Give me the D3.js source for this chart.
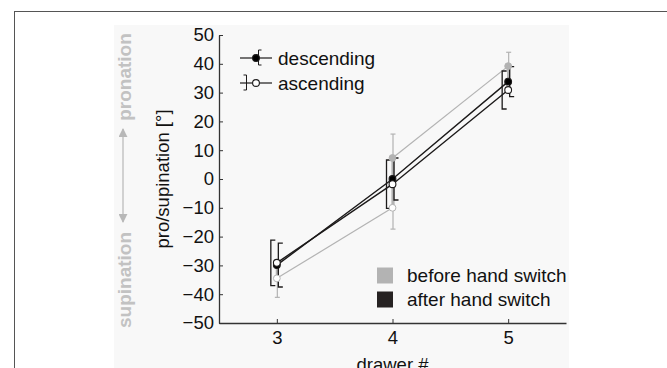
<!DOCTYPE html>
<html>
<head>
<meta charset="utf-8">
<script src="https://cdn.jsdelivr.net/npm/d3@7"></script>
<style>
  body { margin: 0; background: #fff; }
  svg { display: block; font-family: 'Liberation Sans', Arial, sans-serif; }
</style>
</head>
<body>
<div id="chart"></div>
<script>
// drawer numbers and mean angles (deg), with standard deviations
const drawers = [3, 4, 5];
const afterDesc = [-29.9, 0.0, 33.8];
const afterDescSd = [7.6, 7.3, 5.2];
const afterAsc = [-29.1, -1.8, 30.9];
const afterAscSd = [7.9, 8.4, 6.6];

const beforeDescDrawers = [4, 5];
const beforeDesc = [7.3, 39.2];
const beforeDescSd = [8.3, 4.8];
const beforeAscDrawers = [3, 4];
const beforeAsc = [-34.5, -10.0];
const beforeAscSd = [6.6, 7.4];

const yTicks = [-50, -40, -30, -20, -10, 0, 10, 20, 30, 40, 50];
const xTicks = [3, 4, 5];
const seriesNames = ['descending', 'ascending'];
const phaseNames = ['before hand switch', 'after hand switch'];

const W = 667, H = 368;
const GRAY = '#b3b3b3', BLACK = '#1c1a1a', AXIS = '#333';

const svg = d3.select('#chart').append('svg')
  .attr('width', W).attr('height', H);

// outer frame and panel
svg.append('rect').attr('x', 14.5).attr('y', 11.5).attr('width', 700).attr('height', 400)
  .attr('fill', '#fff').attr('stroke', '#555');
svg.append('rect').attr('x', 114).attr('y', 25).attr('width', 455).attr('height', 360)
  .attr('fill', '#f8f8f8');

const x = d3.scaleLinear().domain([2.5, 5.5]).range([219, 566]);
const y = d3.scaleLinear().domain([-50, 50]).range([323, 35]);

const zip = (xs, ys, sds) => xs.map((d, i) => ({ x: d, y: ys[i], sd: sds[i] }));
const before = [
  { data: zip(beforeDescDrawers, beforeDesc, beforeDescSd), filled: true },
  { data: zip(beforeAscDrawers, beforeAsc, beforeAscSd), filled: false }
];
const after = [
  { data: zip(drawers, afterDesc, afterDescSd), filled: true },
  { data: zip(drawers, afterAsc, afterAscSd), filled: false }
];

// axes
const yAxis = svg.append('g')
  .attr('transform', `translate(${x.range()[0]},0)`)
  .call(d3.axisLeft(y).tickValues(yTicks).tickSizeInner(-4).tickSizeOuter(0).tickPadding(5)
    .tickFormat(d => d < 0 ? '\u2212' + Math.abs(d) : d));
const xAxis = svg.append('g')
  .attr('transform', `translate(0,${y.range()[0]})`)
  .call(d3.axisBottom(x).tickValues(xTicks).tickSizeInner(-4).tickSizeOuter(0).tickPadding(8)
    .tickFormat(d3.format('d')));
[yAxis, xAxis].forEach(g => {
  g.select('.domain').attr('stroke', AXIS).attr('stroke-width', 1.3);
  g.selectAll('.tick line').attr('stroke', AXIS);
  g.selectAll('.tick text').attr('fill', '#111').style('font-size', '18.5px')
    .attr('font-family', 'Liberation Sans, Arial, sans-serif');
});

svg.append('text')
  .attr('transform', `translate(169,${y(0)}) rotate(-90)`)
  .attr('text-anchor', 'middle').style('font-size', '18.5px').attr('fill', '#111')
  .text('pro/supination [°]');
svg.append('text')
  .attr('x', x(4)).attr('y', 371)
  .attr('text-anchor', 'middle').style('font-size', '18.5px').attr('fill', '#111')
  .text('drawer #');

// pronation / supination annotation
const defs = svg.append('defs');
defs.append('marker').attr('id', 'head').attr('viewBox', '0 0 10 10')
  .attr('refX', 9).attr('refY', 5).attr('markerWidth', 9).attr('markerHeight', 9)
  .attr('markerUnits', 'userSpaceOnUse').attr('orient', 'auto-start-reverse')
  .append('path').attr('d', 'M0,0L10,5L0,10Z').attr('fill', '#b8b8b8');
svg.append('line').attr('x1', 123).attr('x2', 123).attr('y1', 129).attr('y2', 222)
  .attr('stroke', '#b8b8b8').attr('stroke-width', 1.2)
  .attr('marker-start', 'url(#head)').attr('marker-end', 'url(#head)');
[['pronation', 77], ['supination', 280]].forEach(([t, cy]) => {
  svg.append('text')
    .attr('transform', `translate(131,${cy}) rotate(-90)`)
    .attr('text-anchor', 'middle').style('font-size', '19px').style('font-weight', 'bold')
    .attr('fill', '#c2c2c2').text(t);
});

const line = d3.line().x(d => x(d.x)).y(d => y(d.y));

// before hand switch (gray)
before.forEach(s => {
  svg.append('path').datum(s.data).attr('d', line)
    .attr('fill', 'none').attr('stroke', GRAY).attr('stroke-width', 1.2);
});
before.forEach(s => {
  const dir = s.filled ? 1 : -1; // outer half goes up for descending
  s.data.forEach(d => {
    const cx = x(d.x) + 0.5;
    const outer = d.y + dir * d.sd, inner = d.y - dir * d.sd;
    svg.append('line').attr('x1', cx).attr('x2', cx).attr('y1', y(d.y)).attr('y2', y(outer))
      .attr('stroke', GRAY).attr('stroke-width', 1.2);
    svg.append('line').attr('x1', cx - 2.5).attr('x2', cx + 2.5).attr('y1', y(outer)).attr('y2', y(outer))
      .attr('stroke', GRAY).attr('stroke-width', 1.2);
    svg.append('line').attr('x1', cx).attr('x2', cx).attr('y1', y(d.y)).attr('y2', y(inner))
      .attr('stroke', GRAY).attr('stroke-width', 3.2);
  });
});

// after hand switch (black)
after.forEach(s => {
  svg.append('path').datum(s.data).attr('d', line)
    .attr('fill', 'none').attr('stroke', BLACK).attr('stroke-width', 1.4);
});
after.forEach(s => {
  const dx = s.filled ? 1.5 : -6;
  s.data.forEach(d => {
    const cx = x(d.x) + dx;
    const y1 = y(d.y + d.sd), y2 = y(d.y - d.sd);
    svg.append('path')
      .attr('d', `M${cx + 4.5},${y1}H${cx}V${y2}H${cx + 4.5}`)
      .attr('fill', 'none').attr('stroke', BLACK).attr('stroke-width', 1.3);
  });
});

// markers
before.forEach(s => {
  svg.selectAll(null).data(s.data).join('circle')
    .attr('cx', d => x(d.x)).attr('cy', d => y(d.y)).attr('r', 3.4)
    .attr('fill', s.filled ? GRAY : '#fff').attr('stroke', GRAY).attr('stroke-width', 1);
});
after.forEach(s => {
  svg.selectAll(null).data(s.data).join('circle')
    .attr('cx', d => x(d.x)).attr('cy', d => y(d.y)).attr('r', 3.4)
    .attr('fill', s.filled ? '#000' : '#fff').attr('stroke', BLACK).attr('stroke-width', 1.1);
});

// top legend
const lg = svg.append('g');
seriesNames.forEach((name, i) => {
  const ly = 58 + i * 25, filled = i === 0;
  lg.append('line').attr('x1', 240).attr('x2', 272).attr('y1', ly).attr('y2', ly)
    .attr('stroke', BLACK).attr('stroke-width', 1.2);
  const bx = filled ? 258.5 : 246.5, cap = filled ? 3 : -3;
  lg.append('path').attr('d', `M${bx + cap},${ly - 8}H${bx}V${ly + 7}H${bx + cap}`)
    .attr('fill', 'none').attr('stroke', BLACK).attr('stroke-width', 1);
  lg.append('circle').attr('cx', 256).attr('cy', ly).attr('r', 3.4)
    .attr('fill', filled ? '#000' : '#fff').attr('stroke', BLACK).attr('stroke-width', 1.1);
  lg.append('text').attr('x', 278).attr('y', ly + 7).style('font-size', '19px')
    .attr('fill', '#111').text(name);
});

// bottom legend
phaseNames.forEach((name, i) => {
  const ly = 267.5 + i * 24;
  svg.append('rect').attr('x', 377).attr('y', ly).attr('width', 16).attr('height', 16)
    .attr('fill', i === 0 ? GRAY : '#262222');
  svg.append('text').attr('x', 407).attr('y', ly + 14).style('font-size', '19px')
    .attr('fill', '#111').text(name);
});
</script>
</body>
</html>
